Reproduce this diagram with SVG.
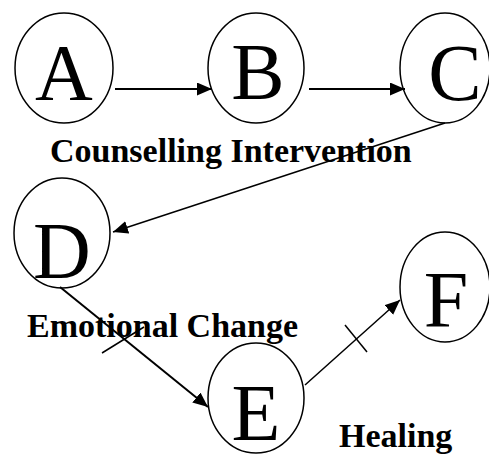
<svg xmlns="http://www.w3.org/2000/svg" width="489" height="454" viewBox="0 0 489 454">
<style>
.node ellipse{fill:none;stroke:#000;stroke-width:1.5}
.node text{font-size:80px;text-anchor:middle;fill:#000}
.lbl{font-size:34px;font-weight:bold;fill:#000}
.edge{stroke:#000;fill:none}
</style>
<defs>
<marker id="ah" markerUnits="userSpaceOnUse" markerWidth="16" markerHeight="14" refX="15" refY="6.5" orient="auto">
<path d="M0,0 L15,6.5 L0,13 z" fill="#000"/>
</marker>
</defs>
<rect width="489" height="454" fill="#fff"/>
<g font-family="'Liberation Serif', 'Times New Roman', serif">
<g id="A" class="node"><ellipse cx="64" cy="68" rx="49" ry="55"/><text x="64" y="100">A</text></g>
<g id="B" class="node"><ellipse cx="256" cy="68" rx="48" ry="55"/><text x="258" y="99">B</text></g>
<g id="C" class="node"><ellipse cx="445" cy="68" rx="45" ry="55"/><text x="455" y="100">C</text></g>
<g id="D" class="node"><ellipse cx="62" cy="233" rx="48" ry="55"/><text x="62" y="278">D</text></g>
<g id="E" class="node"><ellipse cx="256" cy="398" rx="48" ry="55"/><text x="256" y="440">E</text></g>
<g id="F" class="node"><ellipse cx="445" cy="287" rx="45" ry="55"/><text x="446" y="327">F</text></g>
<g id="connectors">
<line class="edge" x1="115" y1="89" x2="212" y2="89" stroke-width="2" marker-end="url(#ah)"/>
<line class="edge" x1="309" y1="89" x2="405" y2="89" stroke-width="2" marker-end="url(#ah)"/>
<line class="edge" x1="445" y1="123" x2="113" y2="232" stroke-width="1.5" marker-end="url(#ah)"/>
<line class="edge" x1="60" y1="287" x2="208" y2="407" stroke-width="2" marker-end="url(#ah)"/>
<line class="edge" x1="102" y1="353" x2="144" y2="327" stroke-width="1.5"/>
<line class="edge" x1="305" y1="385" x2="400" y2="300" stroke-width="1.5" marker-end="url(#ah)"/>
<line class="edge" x1="345" y1="325" x2="367" y2="352" stroke-width="1.5"/>
</g>
<text class="lbl" x="50" y="162">Counselling Intervention</text>
<text class="lbl" x="27" y="337">Emotional Change</text>
<text class="lbl" x="339" y="447">Healing</text>
</g>
</svg>
